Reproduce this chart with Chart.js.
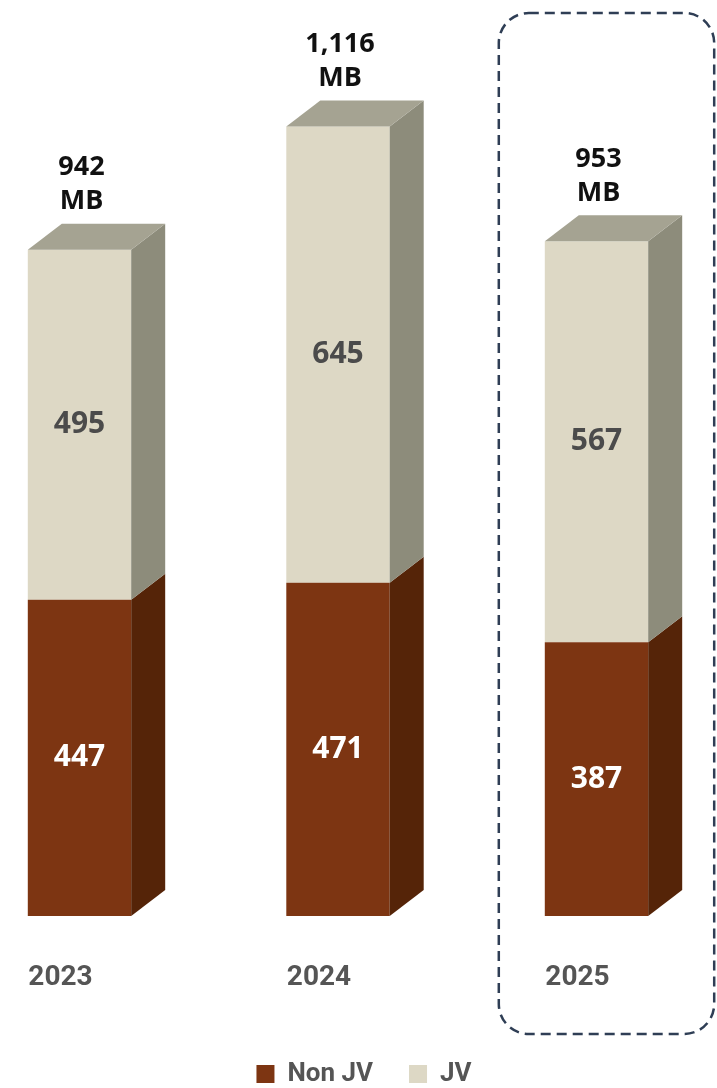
<!DOCTYPE html>
<html>
<head>
<meta charset="utf-8">
<script src="https://cdn.jsdelivr.net/npm/chart.js@4.4.1/dist/chart.umd.min.js"></script>
<style>
    html, body { margin: 0; padding: 0; background: #fff; }
    #wrap { width: 717px; height: 1088px; }
</style>
</head>
<body>
<div id="wrap"><canvas id="mbChart" width="717" height="1088"></canvas></div>
<script>
// data
const years = ['2023', '2024', '2025'];
const nonJv = [447, 471, 387];
const jv = [495, 645, 567];
const totals = [942, 1116, 953];

// 3d look: side / top shades and depth of the fake extrusion
const depthX = 34;
const depthY = 26;
const sideColors = ['#552408', '#8D8C7B'];
const topColor = '#A5A392';
const valueColors = ['#ffffff', '#4b4b4b'];

const bar3d = {
    id: 'bar3d',
    afterDatasetsDraw(chart) {
        const ctx = chart.ctx;
        const metas = [chart.getDatasetMeta(0), chart.getDatasetMeta(1)];
        ctx.save();

        years.forEach(function (year, i) {
            let last = null;
            metas.forEach(function (meta, d) {
                const b = meta.data[i];
                const r = b.x + b.width / 2;
                // right face
                ctx.fillStyle = sideColors[d];
                ctx.beginPath();
                ctx.moveTo(r, b.y);
                ctx.lineTo(r + depthX, b.y - depthY);
                ctx.lineTo(r + depthX, b.base - depthY);
                ctx.lineTo(r, b.base);
                ctx.closePath();
                ctx.fill();

                // value in the middle of the front face
                ctx.fillStyle = valueColors[d];
                ctx.font = 'bold 30px "Open Sans", sans-serif';
                ctx.textAlign = 'center';
                ctx.textBaseline = 'middle';
                const v = chart.data.datasets[d].data[i];
                ctx.fillText(v, b.x, (b.y + b.base) / 2);
                last = b;
            });

            // top face
            const l = last.x - last.width / 2;
            const r = last.x + last.width / 2;
            ctx.fillStyle = topColor;
            ctx.beginPath();
            ctx.moveTo(l, last.y);
            ctx.lineTo(r, last.y);
            ctx.lineTo(r + depthX, last.y - depthY);
            ctx.lineTo(l + depthX, last.y - depthY);
            ctx.closePath();
            ctx.fill();

            // total above the bar
            ctx.fillStyle = '#111';
            ctx.font = 'bold 27px "Open Sans", sans-serif';
            ctx.textAlign = 'center';
            ctx.fillText(totals[i].toLocaleString('en-US'), last.x + 2, last.y - 82);
            ctx.fillText('MB', last.x + 2, last.y - 48);
        });

        // dashed frame round the last year
        const b = metas[1].data[years.length - 1];
        const x0 = b.x - b.width / 2 - 46;
        const x1 = b.x + b.width / 2 + depthX + 32;
        const y0 = 13;
        const y1 = chart.chartArea.bottom + 118;
        ctx.strokeStyle = '#2F3E55';
        ctx.lineWidth = 2.5;
        ctx.setLineDash([10, 6]);
        ctx.beginPath();
        ctx.roundRect(x0, y0, x1 - x0, y1 - y0, 30);
        ctx.stroke();
        ctx.restore();
    }
};

const ctx = document.getElementById('mbChart').getContext('2d');
new Chart(ctx, {
    type: 'bar',
    data: {
        labels: years,
        datasets: [
            {
                label: 'Non JV',
                data: nonJv,
                backgroundColor: '#7D3512',
                borderWidth: 0,
                clip: false
            },
            {
                label: 'JV',
                data: jv,
                backgroundColor: '#DDD8C5',
                borderWidth: 0,
                clip: false
            }
        ]
    },
    options: {
        responsive: false,
        animation: false,
        categoryPercentage: 1,
        barPercentage: 0.4,
        layout: {
            padding: { left: 79.5, right: 68.5, top: 0, bottom: -9 }
        },
        plugins: {
            tooltip: { enabled: false },
            legend: {
                position: 'bottom',
                labels: {
                    boxWidth: 18,
                    boxHeight: 18,
                    padding: 36,
                    color: '#555',
                    font: { family: 'Roboto, sans-serif', size: 26, weight: 'bold' }
                }
            }
        },
        scales: {
            x: {
                stacked: true,
                offset: false,
                grid: { display: false, drawTicks: false },
                border: { display: false },
                ticks: {
                    color: '#555',
                    padding: 45,
                    labelOffset: -19,
                    font: { family: 'Roboto, sans-serif', size: 28, weight: 'bold' }
                },
                afterFit: function (scale) { scale.height = 109; }
            },
            y: {
                stacked: true,
                position: 'right',
                min: 0,
                max: 1295,
                grid: { display: false },
                border: { display: false },
                ticks: { display: false },
                afterFit: function (scale) { scale.width = 52; }
            }
        }
    },
    plugins: [bar3d]
});
</script>
</body>
</html>
